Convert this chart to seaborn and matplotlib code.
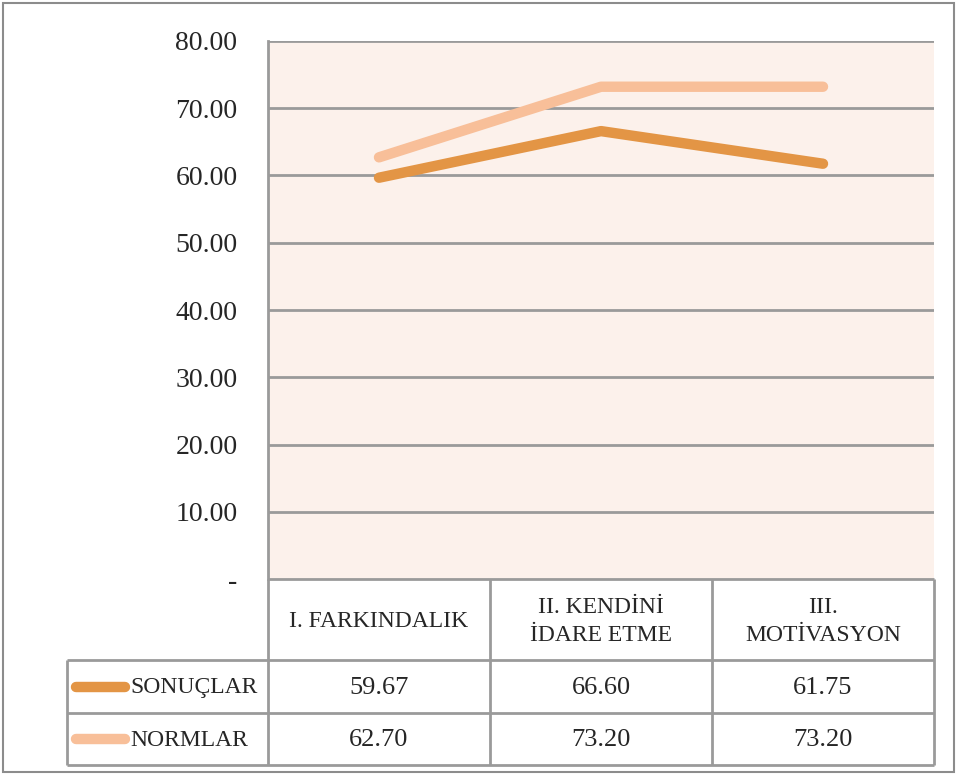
import numpy as np
import pandas as pd
import matplotlib
matplotlib.use("Agg")
import matplotlib.pyplot as plt
import seaborn as sns

categories = ["I. FARKINDALIK", "II. KENDİNİ\nİDARE ETME", "III.\nMOTİVASYON"]
series_names = ["SONUÇLAR", "NORMLAR"]
sonuclar = [59.67, 66.60, 61.75]
normlar = [62.70, 73.20, 73.20]
yticks = [0, 10, 20, 30, 40, 50, 60, 70, 80]

colors = {"SONUÇLAR": "#E39545", "NORMLAR": "#F8BF99"}
grid_col = "#9a9a9a"

sns.set_theme(style="white")
plt.rcParams["font.family"] = ["Liberation Serif", "DejaVu Serif"]

df = pd.DataFrame({
    "idx": list(range(len(categories))) * 2,
    "value": sonuclar + normlar,
    "series": [series_names[0]] * 3 + [series_names[1]] * 3,
})

W, H = 958, 775
fig = plt.figure(figsize=(W / 100, H / 100), dpi=100)

# main plot area (pixel box)
px_l, px_r, px_t, px_b = 268, 934, 41, 579
ax = fig.add_axes([px_l / W, 1 - px_b / H, (px_r - px_l) / W, (px_b - px_t) / H])
ax.set_facecolor("#FCF1EB")
sns.lineplot(data=df, x="idx", y="value", hue="series", hue_order=series_names[::-1],
             palette=colors, linewidth=7.5, legend=False, ax=ax, zorder=3)
for ln in ax.lines:
    ln.set_solid_capstyle("round")

ax.set_xlim(-0.5, 2.5)
ax.set_ylim(0, 80)
ax.set_yticks(yticks)
ax.set_yticklabels(["-" if v == 0 else f"{v:.2f}" for v in yticks], fontsize=20)
ax.set_xticks([])
ax.set_xlabel("")
ax.set_ylabel("")
ax.tick_params(axis="y", length=0, pad=22)
for v in yticks[1:]:
    ax.axhline(v, color=grid_col, lw=2, zorder=1)
for s in ["top", "right", "bottom"]:
    ax.spines[s].set_visible(False)
ax.spines["left"].set_color(grid_col)
ax.spines["left"].set_linewidth(2)

# data table below the plot
lab_w = 201 / 222
tb_b = 765
tax = fig.add_axes([67 / W, 1 - tb_b / H, (px_r - 67) / W, (tb_b - px_b) / H])
tax.set_xlim(-0.5 - lab_w, 2.5)
rows_y = [0, 81, 134, 186]
tax.set_ylim(rows_y[-1], 0)
tax.axis("off")
lkw = dict(color=grid_col, lw=2, clip_on=False, solid_capstyle="butt")
tax.plot([-0.5, 2.5], [0, 0], **lkw)
for yy in rows_y[1:]:
    tax.plot([-0.5 - lab_w, 2.5], [yy, yy], **lkw)
for xx in [-0.5, 0.5, 1.5, 2.5]:
    tax.plot([xx, xx], [0, rows_y[-1]], **lkw)
tax.plot([-0.5 - lab_w] * 2, [rows_y[1], rows_y[-1]], **lkw)

for i, c in enumerate(categories):
    tax.text(i, rows_y[1] / 2 + 2, c, ha="center", va="center", fontsize=17, linespacing=1.45)

for r, (name, vals) in enumerate(zip(series_names, [sonuclar, normlar])):
    yc = (rows_y[r + 1] + rows_y[r + 2]) / 2
    x0 = -0.5 - lab_w
    tax.plot([x0 + 9 / 222, x0 + 58 / 222], [yc, yc], color=colors[name], lw=7.5,
             solid_capstyle="round", clip_on=False)
    tax.text(x0 + 63 / 222, yc + 1, name, ha="left", va="center", fontsize=17)
    for i, v in enumerate(vals):
        tax.text(i, yc + 1, f"{v:.2f}", ha="center", va="center", fontsize=19)

# outer frame
fig.patches.append(plt.Rectangle((3 / W, 3 / H), 951 / W, 769 / H, transform=fig.transFigure,
                                 fill=False, edgecolor="#8c8c8c", lw=1.5))

fig.savefig("out.png", dpi=100)
